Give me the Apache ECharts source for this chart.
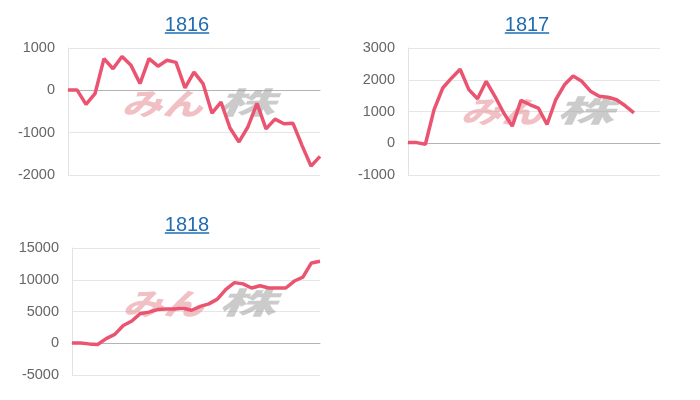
<!DOCTYPE html>
<html>
<head>
<meta charset="utf-8">
<script src="https://cdn.jsdelivr.net/npm/echarts@6/dist/echarts.min.js"></script>
<style>
    html, body { margin: 0; padding: 0; background: #fff; }
    #main { width: 700px; height: 400px; }
</style>
</head>
<body>
<div id="main"></div>
<script>
// three small line charts, x labels are hidden in the original
var titles = ['1816', '1817', '1818'];

var values1816 = [10, 10, -330, -80, 750, 510, 800, 590, 160, 750, 570, 710, 660, 60, 430, 160,
    -540, -280, -890, -1220, -860, -310, -910, -680, -790, -780, -1300, -1790, -1560];
var values1817 = [20, 20, -30, 1060, 1740, 2050, 2330, 1690, 1400, 1950, 1480, 960, 540, 1350,
    1220, 1110, 590, 1370, 1840, 2120, 1950, 1640, 1480, 1450, 1370, 1180, 960];
var values1818 = [50, 50, -100, -200, 730, 1400, 2800, 3500, 4700, 4900, 5300, 5400, 5400, 5500,
    5200, 5800, 6200, 6950, 8500, 9550, 9350, 8700, 9050, 8700, 8700, 8700, 9800, 10400, 12650, 12900];

var count1816 = 29, count1817 = 30, count1818 = 30;

var yTicks1816 = { min: -2000, max: 1000, interval: 1000 };
var yTicks1817 = { min: -1000, max: 3000, interval: 1000 };
var yTicks1818 = { min: -5000, max: 15000, interval: 5000 };

function cats(n){
    var a = [];
    for(var i=0;i<n;i++) a.push(String(i+1));
    return a;
}

var lineColor = '#ea5470';
var font = '"Liberation Sans", Arial, sans-serif';

var grids = [
    { left: 68, top: 48, width: 252, height: 127 },
    { left: 408, top: 48, width: 252, height: 127 },
    { left: 72, top: 248, width: 248, height: 127 }
];

function xAxisOf(i, n){
    return {
        gridIndex: i,
        type: 'category',
        boundaryGap: false,
        data: cats(n),
        axisTick: { show: false },
        axisLabel: { show: false },
        axisLine: { show: true, onZero: true, lineStyle: { color: '#b4b4b4', width: 1 } },
        splitLine: { show: false }
    };
}

function yAxisOf(i, t){
    return {
        gridIndex: i,
        type: 'value',
        min: t.min,
        max: t.max,
        interval: t.interval,
        axisLine: { show: true, lineStyle: { color: '#e2e2e2' } },
        axisTick: { show: false },
        axisLabel: {
            color: '#666', fontSize: 14.5, fontFamily: font, margin: 13,
            formatter: function(v){ return String(v); }
        },
        splitLine: { lineStyle: { color: '#e6e6e6', width: 1 } }
    };
}

function seriesOf(i, data){
    return {
        type: 'line',
        xAxisIndex: i,
        yAxisIndex: i,
        data: data,
        showSymbol: false,
        symbol: 'none',
        lineStyle: { color: lineColor, width: 3.5 },
        z: 5
    };
}

// title text + underline (looks like a link)
function titleOf(text, cx, cy){
    var w = text.length * 11.1;
    return [{
        type: 'text',
        x: cx, y: cy,
        style: { text: text, fill: '#1f6cb0', font: '20px ' + font, textAlign: 'center', textVerticalAlign: 'middle' }
    }, {
        type: 'line',
        shape: { x1: cx - w/2, y1: cy + 8, x2: cx + w/2, y2: cy + 8 },
        style: { stroke: '#1f6cb0', lineWidth: 1.3 }
    }];
}

// "みん株" watermark behind the lines
function markOf(cx, cy){
    var f = 'italic 900 30px "Noto Sans CJK JP"';
    return [{
        type: 'text',
        x: cx - 40, y: cy,
        scaleX: 1.35,
        z: 1,
        style: { text: 'みん', fill: 'rgba(230,140,150,0.55)', font: f, textAlign: 'center', textVerticalAlign: 'middle' }
    }, {
        type: 'text',
        x: cx + 44, y: cy - 1,
        scaleX: 1.9,
        z: 1,
        style: { text: '株', fill: 'rgba(160,160,160,0.55)', font: f, textAlign: 'center', textVerticalAlign: 'middle' }
    }];
}

var graphics = []
    .concat(titleOf(titles[0], 187, 25))
    .concat(titleOf(titles[1], 527, 25))
    .concat(titleOf(titles[2], 187, 225))
    .concat(markOf(202, 104))
    .concat(markOf(541, 112))
    .concat(markOf(203, 304));

var chart = echarts.init(document.getElementById('main'));
chart.setOption({
    animation: false,
    grid: grids,
    xAxis: [xAxisOf(0, count1816), xAxisOf(1, count1817), xAxisOf(2, count1818)],
    yAxis: [yAxisOf(0, yTicks1816), yAxisOf(1, yTicks1817), yAxisOf(2, yTicks1818)],
    series: [seriesOf(0, values1816), seriesOf(1, values1817), seriesOf(2, values1818)],
    graphic: graphics
});
</script>
</body>
</html>
